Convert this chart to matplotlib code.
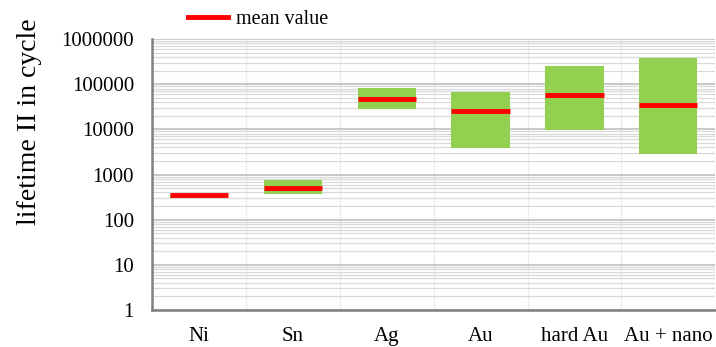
import matplotlib
matplotlib.use('Agg')
import matplotlib.pyplot as plt
import numpy as np
from matplotlib.ticker import LogLocator, FixedLocator, NullFormatter
from matplotlib.lines import Line2D

categories = ["Ni", "Sn", "Ag", "Au", "hard Au", "Au + nano"]
low_vals   = [295, 365, 28500, 3900, 9600, 2800]
high_vals  = [375, 770, 83000, 66500, 250000, 380000]
mean_vals  = [345, 510, 46000, 25000, 57000, 34000]
ytick_vals = [1, 10, 100, 1000, 10000, 100000, 1000000]

plt.rcParams['font.family'] = ['Liberation Serif', 'DejaVu Serif']

fig = plt.figure(figsize=(7.16, 3.47), dpi=100)
ax = fig.add_axes([0.2123, 0.1066, 0.7867, 0.781])

x = np.arange(len(categories))
bar_w = 0.62
heights = [h - l for h, l in zip(high_vals, low_vals)]
ax.bar(x, heights, bottom=low_vals, width=bar_w, color='#92D050', zorder=3)
ax.hlines(mean_vals, x - bar_w / 2, x + bar_w / 2, color='#FF0000', lw=3.5, zorder=4)

ax.set_yscale('log')
ax.set_ylim(1, 1000000)
ax.set_xlim(-0.5, len(categories) - 0.5)
ax.yaxis.set_major_locator(FixedLocator(ytick_vals))
ax.set_yticklabels([str(v) for v in ytick_vals])
ax.yaxis.set_minor_locator(LogLocator(base=10, subs=np.arange(2, 10)))
ax.yaxis.set_minor_formatter(NullFormatter())
ax.set_xticks(x)
ax.set_xticklabels(categories)
ax.xaxis.set_minor_locator(FixedLocator(np.arange(-0.5, len(categories), 0.5)))

ax.grid(which='major', axis='y', color='#bfbfbf', lw=1.2, zorder=0)
ax.grid(which='minor', axis='y', color='#d9d9d9', lw=0.9, zorder=0)
ax.grid(which='minor', axis='x', color='#ececec', lw=1.0, zorder=1)
ax.set_axisbelow(True)

ax.tick_params(axis='both', which='both', length=0, labelsize=15)
ax.tick_params(axis='x', pad=12)
ax.tick_params(axis='y', pad=13)
for s in ['top', 'right']:
    ax.spines[s].set_visible(False)
ax.spines['left'].set_color('#808080')
ax.spines['left'].set_linewidth(1.8)
ax.spines['bottom'].set_color('#808080')
ax.spines['bottom'].set_linewidth(1.8)

ax.set_ylabel("lifetime II in cycle", fontsize=20, va='center')
ax.yaxis.set_label_coords(-0.218, 0.694)

handle = Line2D([], [], color='#FF0000', lw=3.5)
fig.legend([handle], ["mean value"], loc='center left', bbox_to_anchor=(0.262, 0.944),
           frameon=False, fontsize=14.5, handlelength=2.0, handletextpad=0.4,
           borderpad=0, borderaxespad=0)

fig.savefig("out.png", dpi=100)
